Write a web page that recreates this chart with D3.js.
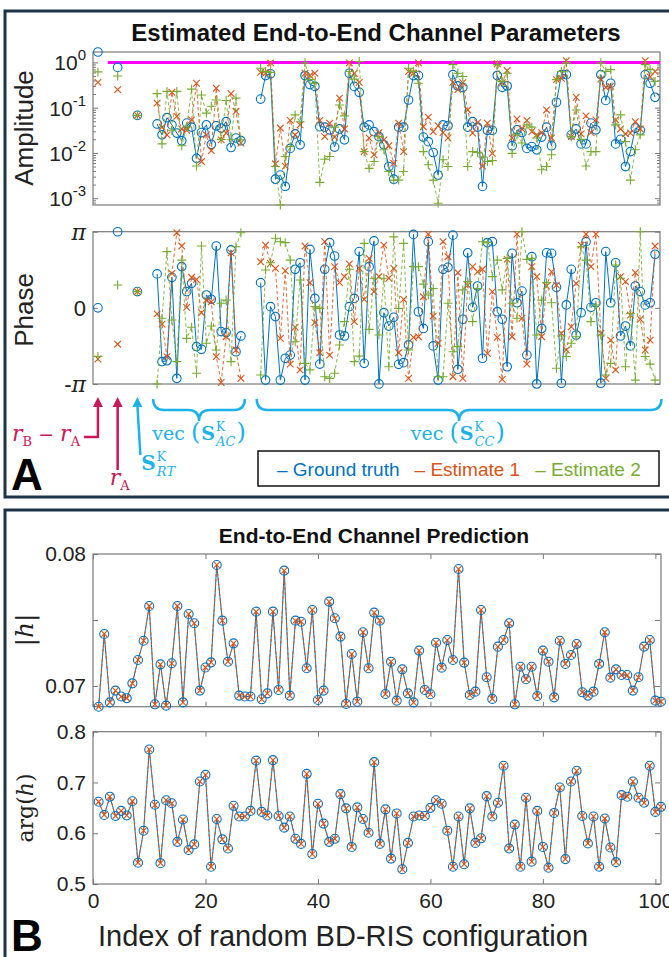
<!DOCTYPE html>
<html>
<head>
<meta charset="utf-8">
<script src="https://cdn.jsdelivr.net/npm/d3@7"></script>
<style>
  body { margin: 0; background: #fff; }
  svg { display: block; font-family: "Liberation Sans", Arial, sans-serif; }
</style>
</head>
<body>
<svg id="chart"></svg>
<script>
// ---------------- data ----------------
// top panel: parameter positions on the (hidden) index axis
const scalarPos = [1, 5, 9];          // rB - rA, rA, S_RT
const acStart = 13;                   // vec(S_AC), 18 entries
const ccStart = 34;                   // vec(S_CC), 81 entries

// amplitudes are stored as log10(|.|)
const scAmpGt = [0.23, -0.11, -1.17];
const scAmpE1 = [-0.44, -0.60, -1.17];
const scAmpE2 = [-0.21, -0.30, -1.17];
const scPhGt = [0.00, 3.14, 0.67];
const scPhE1 = [-2.11, -1.50, 0.67];
const scPhE2 = [-2.01, 0.94, 0.67];

const acAmpGt = [-1.36,-1.60,-1.22,-1.38,-1.56,-1.73,-1.34,-1.43,-2.12,-1.55,-1.38,-1.81,-1.40,-1.45,-1.31,-1.88,-1.67,-1.73];
const acAmpE1 = [-0.90,-1.43,-1.60,-0.66,-1.19,-1.47,-1.50,-1.27,-0.46,-2.19,-1.60,-1.95,-0.57,-1.71,-1.56,-0.69,-1.08,-1.78];
const acAmpE2 = [-0.69,-1.80,-0.64,-1.50,-0.64,-1.84,-1.42,-0.59,-2.29,-0.72,-1.12,-0.97,-0.83,-1.70,-0.84,-1.71,-0.79,-1.71];
const acPhGt = [1.40,-2.22,-2.18,1.26,-2.91,1.70,0.67,1.01,-1.60,-1.71,0.53,0.35,2.55,-0.98,-1.02,2.39,-1.81,-1.16];
const acPhE1 = [-0.25,-0.67,-2.01,1.42,3.10,2.55,0.02,1.26,1.17,-0.20,0.32,0.25,-2.01,-3.08,-1.19,2.27,-1.74,-2.91];
const acPhE2 = [-3.14,-0.43,2.32,-0.50,-2.22,1.97,-1.26,-0.80,-2.70,2.55,-1.46,-0.75,-1.74,0.19,0.32,-2.22,2.52,3.10];

const ccAmpGt = [-0.81,-0.29,-0.25,-2.58,-2.49,-2.74,-1.90,-1.58,-1.82,-0.29,
  -0.49,-0.53,-1.42,-1.43,-1.49,-1.87,-1.47,-1.71,-0.24,-0.53,
  -0.66,-1.43,-1.38,-1.53,-1.64,-1.82,-2.30,-2.58,-1.43,-1.43,
  -0.83,-0.29,-0.29,-1.65,-1.75,-1.99,-2.49,-1.38,-1.40,-0.27,
  -0.52,-0.55,-1.43,-1.31,-1.43,-2.74,-1.50,-1.50,-0.29,-0.55,
  -0.52,-1.84,-1.49,-1.55,-1.90,-1.86,-1.93,-1.65,-1.43,-1.84,
  -0.88,-0.27,-0.27,-1.60,-1.47,-1.80,-1.80,-1.34,-1.49,-0.27,
  -0.84,-0.46,-1.80,-1.70,-2.30,-1.97,-1.45,-1.50,-0.27,-0.46,-0.77];
const ccAmpE1 = [-0.22,-0.24,-0.01,-2.24,-1.45,-2.29,-1.28,-1.60,-1.38,-0.24,
  -0.29,-0.24,-1.28,-1.64,-1.34,-1.65,-0.79,-1.47,-0.01,-0.24,
  -0.44,-1.97,-1.67,-2.04,-1.55,-1.71,-1.84,-2.23,-1.34,-1.97,
  -0.20,-0.24,-0.01,-1.42,-1.21,-1.53,-1.40,-1.55,-1.67,-0.44,
  -0.60,-0.45,-1.05,-1.56,-1.33,-2.29,-1.34,-2.01,-0.03,-0.45,
  -0.18,-1.67,-1.25,-1.47,-1.28,-1.53,-1.60,-1.55,-1.05,-1.67,
  -0.38,-0.35,0.04,-1.64,-0.77,-1.58,-1.18,-1.55,-1.27,-0.37,
  -0.55,-0.53,-1.27,-1.47,-1.58,-1.56,-1.31,-1.47,0.04,-0.32,-0.20];
const ccAmpE2 = [-0.13,-0.20,-0.22,-2.30,-3.15,-2.08,-1.86,-1.16,-1.31,-0.01,
  -0.38,-0.46,-2.65,-2.14,-2.08,-1.43,-0.94,-1.18,-0.20,-0.37,
  0.02,-1.97,-2.34,-2.19,-1.64,-1.93,-2.41,-2.60,-2.60,-2.41,
  -0.13,-0.20,-0.46,-1.97,-2.26,-2.60,-3.11,-2.15,-2.30,-0.05,
  -0.24,-0.31,-2.30,-1.97,-1.99,-2.09,-2.19,-2.17,-0.05,-0.42,
  -0.24,-2.01,-1.60,-1.78,-1.38,-1.43,-1.67,-2.37,-2.30,-2.04,
  -0.38,-0.20,-0.01,-1.64,-1.05,-1.70,-2.29,-1.97,-1.97,-0.01,
  -0.20,-0.16,-1.38,-1.16,-1.75,-2.60,-1.93,-1.60,-0.05,-0.16,-0.42];

const ccPhGt = [1.04,-2.98,0.05,-0.36,-2.98,-2.08,-1.95,1.59,1.86,-2.98,
  2.41,0.39,-2.32,1.59,2.69,2.14,-1.12,-1.16,0.05,0.39,
  2.32,-2.29,1.70,2.76,-3.14,-0.20,-0.75,-0.39,-2.33,-2.26,
  -1.53,3.03,-0.16,-0.85,2.73,-1.57,-2.98,1.59,1.67,3.00,
  -2.54,-0.47,2.27,0.02,0.90,-2.08,2.69,2.73,-0.16,-0.47,
  -2.43,2.25,0.21,0.69,-1.95,2.11,-3.14,-0.85,2.27,2.25,
  0.85,-3.11,0.12,1.59,-1.12,-0.20,2.73,0.02,0.21,-3.11,
  2.32,0.21,1.86,-1.16,-0.75,-1.57,0.90,0.67,0.12,0.21,2.21];
const ccPhE1 = [1.90,2.59,1.83,1.63,-1.26,1.53,-2.32,-0.80,-2.56,2.55,
  1.04,-0.61,-1.85,2.73,-1.95,1.70,1.04,1.29,1.81,-0.57,
  1.63,0.35,2.04,0.67,1.29,2.59,1.22,1.63,-1.85,0.35,
  -2.91,-1.22,-1.19,0.46,3.04,-0.34,-1.46,2.73,2.11,-2.84,
  1.45,-2.91,0.94,1.70,1.49,1.59,-1.88,0.67,-1.22,-2.95,
  2.00,-1.19,3.04,-0.43,-2.32,1.70,1.29,-1.19,0.90,1.49,
  0.94,-1.05,-1.74,-0.78,1.01,2.59,3.04,1.70,3.04,-1.05,
  -2.91,-1.33,-2.56,1.29,1.08,-0.30,1.45,-0.47,-1.74,-1.33,2.55];
const ccPhE2 = [-2.77,1.56,1.86,2.87,2.73,2.69,1.97,-1.40,1.15,-2.29,
  -2.56,0.05,-0.02,-2.84,-2.91,-2.70,-1.53,-0.57,1.59,-2.22,
  -1.99,2.66,-0.89,1.22,-1.12,1.22,-2.43,2.93,-0.02,2.66,
  -1.74,1.70,1.70,0.98,0.53,0.80,-2.84,-2.84,0.19,-1.81,
  -1.60,0.74,1.08,-0.57,0.80,2.73,2.69,1.29,1.97,0.74,
  2.04,0.19,-0.43,3.14,2.00,2.04,-1.12,0.32,1.04,0.21,
  -2.49,-1.16,-2.01,-1.46,-1.19,2.52,1.97,-0.57,0.12,-1.12,
  -2.77,-2.29,1.77,1.22,-2.43,-0.23,-2.98,3.14,-2.01,-2.32,-2.98];

const unitAmp = 1;                 // magenta reference line at amplitude 1
const unitAmpFrom = 3;

// bottom panel: 101 random BD-RIS configurations (prediction coincides with truth)
const hAbs = [0.06843,0.07394,0.06876,0.06965,0.0692,0.06907,0.0702,0.07197,0.07343,0.07606,
  0.06861,0.07164,0.06851,0.07172,0.07606,0.06876,0.07545,0.07475,0.06965,0.0714,
  0.07179,0.07917,0.07495,0.07184,0.07323,0.06927,0.0692,0.0692,0.07563,0.06899,
  0.06944,0.07563,0.0697,0.07874,0.06927,0.07495,0.07487,0.07134,0.07576,0.06894,
  0.06965,0.07639,0.07513,0.07374,0.06864,0.07242,0.06881,0.07407,0.07134,0.07556,
  0.07495,0.06939,0.07184,0.06889,0.07126,0.06944,0.06876,0.07268,0.0697,0.06937,
  0.07328,0.07139,0.07348,0.07197,0.07886,0.07177,0.06932,0.06957,0.07576,0.07066,
  0.06902,0.07298,0.07348,0.07475,0.06861,0.07146,0.07051,0.07146,0.06924,0.07268,
  0.07184,0.06914,0.07343,0.07167,0.07235,0.07318,0.06952,0.06927,0.06957,0.07167,
  0.07407,0.07063,0.07126,0.07083,0.07083,0.06965,0.07066,0.07298,0.07348,0.06889,0.06881];
const hArg = [0.662,0.636,0.672,0.634,0.644,0.635,0.663,0.542,0.605,0.765,
  0.656,0.541,0.665,0.659,0.583,0.627,0.567,0.578,0.702,0.715,
  0.534,0.628,0.588,0.570,0.654,0.633,0.633,0.644,0.743,0.642,
  0.635,0.744,0.634,0.611,0.633,0.589,0.579,0.717,0.559,0.658,
  0.619,0.583,0.589,0.677,0.649,0.573,0.651,0.628,0.601,0.740,
  0.579,0.647,0.550,0.639,0.529,0.581,0.633,0.635,0.634,0.650,
  0.665,0.658,0.605,0.534,0.633,0.539,0.649,0.581,0.590,0.673,
  0.633,0.660,0.733,0.570,0.617,0.534,0.670,0.544,0.644,0.573,
  0.532,0.640,0.690,0.549,0.702,0.723,0.634,0.580,0.633,0.534,
  0.629,0.572,0.543,0.675,0.672,0.702,0.670,0.660,0.733,0.642,0.652];
const hAbsEst = hAbs;
const hArgEst = hArg;

const seriesNames = ["Ground truth", "Estimate 1", "Estimate 2"];
const absTicks = [0.07, 0.075, 0.08];
const argTicks = [0.5, 0.6, 0.7, 0.8];
const idxTicks = [0, 20, 40, 60, 80, 100];

// ---------------- styles ----------------
const colGt = "#0072BD", colE1 = "#D95319", colE2 = "#77AC30";
const cyan = "#1cb2e8", crimson = "#c8175a", frameCol = "#1c3547";
const axisCol = "#7a7a7a", textCol = "#222";
const serif = "'DejaVu Serif', 'Liberation Serif', serif";
const NB = "\u00A0";

const svg = d3.select("#chart").attr("width", 669).attr("height", 957);
svg.append("rect").attr("width", 669).attr("height", 957).attr("fill", "#fff");
const defs = svg.append("defs");

// ---------------- scales ----------------
const xTop = d3.scaleLinear().domain([0, 115]).range([93, 660]);
const yAmp = d3.scaleLog().domain([Math.pow(10, -3.15), Math.pow(10, 0.23)]).range([205, 52]);
const yPh = d3.scaleLinear().domain([-Math.PI, Math.PI]).range([384, 231.7]);
const xBot = d3.scaleLinear().domain([0, 101]).range([93, 661]);
const yAbs = d3.scaleLinear().domain([0.06843, 0.08]).range([706.7, 554]);
const yArg = d3.scaleLinear().domain([0.5, 0.8]).range([884, 731.7]);

function clipFor(id, x0, x1, y0, y1) {
  defs.append("clipPath").attr("id", id).append("rect")
    .attr("x", x0).attr("y", y0).attr("width", x1 - x0).attr("height", y1 - y0);
  return `url(#${id})`;
}

function markerPath(type, x, y, s) {
  if (type === "o") return `M${x + s},${y}A${s},${s} 0 1,0 ${x - s},${y}A${s},${s} 0 1,0 ${x + s},${y}`;
  if (type === "x") return `M${x - s},${y - s}L${x + s},${y + s}M${x - s},${y + s}L${x + s},${y - s}`;
  return `M${x - s},${y}L${x + s},${y}M${x},${y - s}L${x},${y + s}`;
}

function box(g, xs, ys) {
  const [x0, x1] = xs.range(), [y1, y0] = ys.range();
  g.append("rect").attr("x", x0).attr("y", y0).attr("width", x1 - x0).attr("height", y1 - y0)
    .attr("fill", "none").attr("stroke", axisCol).attr("stroke-width", 1.2);
}

function styleAxis(sel) {
  sel.select(".domain").remove();
  sel.selectAll(".tick line").attr("stroke", axisCol);
  sel.selectAll(".tick text").attr("fill", textCol).attr("font-size", 21)
    .attr("font-family", "'Liberation Sans', Arial, sans-serif");
}

// ---------------- panel A ----------------
svg.append("rect").attr("x", 5).attr("y", 11).attr("width", 680).attr("height", 486)
  .attr("fill", "none").attr("stroke", frameCol).attr("stroke-width", 3);
svg.append("text").attr("x", 376).attr("y", 41).attr("text-anchor", "middle")
  .attr("font-weight", "bold").attr("font-size", 24).attr("fill", "#111")
  .text("Estimated End-to-End Channel Parameters");

const pts = (start, arr) => arr.map((v, i) => ({ k: start + i, v }));
const scPts = arr => arr.map((v, i) => ({ k: scalarPos[i], v }));

const topSeries = [
  { color: colGt, marker: "o", size: 4.3, dash: null, op: 1,
    amp: [scAmpGt, acAmpGt, ccAmpGt], ph: [scPhGt, acPhGt, ccPhGt] },
  { color: colE1, marker: "x", size: 3.3, dash: "3.5,2.5", op: 0.85,
    amp: [scAmpE1, acAmpE1, ccAmpE1], ph: [scPhE1, acPhE1, ccPhE1] },
  { color: colE2, marker: "+", size: 4.5, dash: "3.5,2.5", op: 0.85,
    amp: [scAmpE2, acAmpE2, ccAmpE2], ph: [scPhE2, acPhE2, ccPhE2] }
];

function drawTop(g, yScale, key, conv, clip) {
  topSeries.forEach(s => {
    const [sc, ac, cc] = s[key];
    const line = d3.line().x(d => xTop(d.k)).y(d => yScale(conv(d.v)));
    [pts(acStart, ac), pts(ccStart, cc)].forEach(seg => {
      g.append("path").attr("d", line(seg)).attr("fill", "none")
        .attr("stroke", s.color).attr("stroke-width", 1).attr("stroke-opacity", s.op)
        .attr("stroke-dasharray", s.dash).attr("clip-path", clip);
    });
    const all = scPts(sc).concat(pts(acStart, ac), pts(ccStart, cc));
    g.append("g").selectAll("path").data(all).join("path")
      .attr("d", d => markerPath(s.marker, xTop(d.k), yScale(conv(d.v)), s.size))
      .attr("fill", "none").attr("stroke", s.color).attr("stroke-width", 1.1);
  });
}

// amplitude
const gAmp = svg.append("g");
box(gAmp, xTop, yAmp);
const majors = [1, 0.1, 0.01, 0.001];
const minors = [];
for (let e = -4; e <= 0; e++) for (let m = 2; m <= 9; m++) {
  const v = m * Math.pow(10, e);
  if (v > yAmp.domain()[0] && v < yAmp.domain()[1]) minors.push(v);
}
[[d3.axisLeft, 93], [d3.axisRight, 660]].forEach(([ax, x]) => {
  gAmp.append("g").attr("transform", `translate(${x},0)`)
    .call(ax(yAmp).tickValues(majors).tickSize(-5).tickFormat("")).call(styleAxis);
  gAmp.append("g").attr("transform", `translate(${x},0)`)
    .call(ax(yAmp).tickValues(minors).tickSize(-3).tickFormat("")).call(styleAxis);
});
majors.forEach(v => {
  const t = gAmp.append("text").attr("x", 86).attr("y", yAmp(v) + 8).attr("text-anchor", "end")
    .attr("font-size", 21).attr("fill", textCol);
  t.append("tspan").text("10");
  t.append("tspan").attr("dy", -10).attr("font-size", 15).text(Math.round(Math.log10(v)) === 0 ? "0" : "-" + Math.abs(Math.round(Math.log10(v))));
});
gAmp.append("text").attr("transform", "translate(33,128) rotate(-90)").attr("text-anchor", "middle")
  .attr("font-size", 26).attr("fill", textCol).text("Amplitude");
gAmp.append("line").attr("x1", xTop(unitAmpFrom)).attr("x2", xTop.range()[1])
  .attr("y1", yAmp(unitAmp)).attr("y2", yAmp(unitAmp)).attr("stroke", "#ff00ff").attr("stroke-width", 3);
drawTop(gAmp, yAmp, "amp", v => Math.pow(10, v), clipFor("clipAmp", 93, 660, 52, 205));

// phase
const gPh = svg.append("g");
box(gPh, xTop, yPh);
const phTicks = [-Math.PI, 0, Math.PI];
[[d3.axisLeft, 93], [d3.axisRight, 660]].forEach(([ax, x]) => {
  gPh.append("g").attr("transform", `translate(${x},0)`)
    .call(ax(yPh).tickValues(phTicks).tickSize(-5).tickFormat("")).call(styleAxis);
});
phTicks.forEach(v => {
  const t = gPh.append("text").attr("x", 86).attr("y", yPh(v) + 8).attr("text-anchor", "end")
    .attr("font-size", 22).attr("fill", textCol);
  if (v < 0) t.append("tspan").text("-");
  if (v === 0) t.append("tspan").text("0");
  else t.append("tspan").attr("font-family", serif).attr("font-style", "italic").text("π");
});
gPh.append("text").attr("transform", "translate(33,310) rotate(-90)").attr("text-anchor", "middle")
  .attr("font-size", 26).attr("fill", textCol).text("Phase");
drawTop(gPh, yPh, "ph", v => v, clipFor("clipPh", 93, 660, 231, 385));

// annotations: arrows
function arrowUp(g, xb, yb, xt, yt, col) {
  g.append("path").attr("d", `M${xb},${yb}L${xt},${yt + 8}`).attr("stroke", col).attr("stroke-width", 2.5).attr("fill", "none");
  g.append("path").attr("d", `M${xt},${yt}L${xt - 5},${yt + 10}L${xt + 5},${yt + 10}Z`).attr("fill", col);
}
const gAnn = svg.append("g");
const xa = xTop(scalarPos[0]), xb = xTop(scalarPos[1]), xc = xTop(scalarPos[2]);
gAnn.append("path").attr("d", `M84,437L${xa},437`).attr("stroke", crimson).attr("stroke-width", 2.5);
arrowUp(gAnn, xa, 438, xa, 397, crimson);
arrowUp(gAnn, xb, 470, xb, 397, crimson);
arrowUp(gAnn, xc + 3, 455, xc, 397, cyan);

// math labels built from measured pieces
function mathText(g, x, y, pieces, col, anchor) {
  const grp = g.append("g").attr("fill", col).attr("font-family", serif);
  let cx = 0;
  pieces.forEach(p => {
    if (p.stack) {
      const a = grp.append("text").attr("x", cx + 1).attr("y", -9).attr("font-size", 12).text(p.sup);
      const b = grp.append("text").attr("x", cx + 1).attr("y", 6).attr("font-size", 13)
        .attr("font-style", "italic").text(p.sub);
      cx += Math.max(a.node().getComputedTextLength(), b.node().getComputedTextLength()) + 2;
    } else {
      const t = grp.append("text").attr("x", cx).attr("y", p.dy || 0).attr("font-size", p.size || 20)
        .attr("font-style", p.it ? "italic" : null).attr("font-weight", p.bold ? "bold" : null).text(p.t);
      cx += t.node().getComputedTextLength() + (p.gap || 0);
    }
  });
  const off = anchor === "middle" ? -cx / 2 : 0;
  grp.attr("transform", `translate(${x + off},${y})`);
}
mathText(gAnn, 12, 441, [{ t: "r", it: true, size: 22 }, { t: "B", size: 13, dy: 5 }, { t: NB + "−" + NB, size: 19 },
  { t: "r", it: true, size: 22 }, { t: "A", size: 13, dy: 5 }], crimson);
mathText(gAnn, xb - 8, 485, [{ t: "r", it: true, size: 22 }, { t: "A", size: 13, dy: 5 }], crimson);
mathText(gAnn, xc + 4, 470, [{ t: "S", bold: true, size: 20 }, { stack: true, sup: "K", sub: "RT" }], cyan);

// braces under the matrix groups
function brace(g, x0, x1, y, h, col) {
  const xm = (x0 + x1) / 2, r = h / 2;
  g.append("path").attr("d",
    `M${x0},${y}Q${x0},${y + r} ${x0 + r},${y + r}L${xm - r},${y + r}Q${xm},${y + r} ${xm},${y + h}` +
    `Q${xm},${y + r} ${xm + r},${y + r}L${x1 - r},${y + r}Q${x1},${y + r} ${x1},${y}`)
    .attr("fill", "none").attr("stroke", col).attr("stroke-width", 2.5);
}
const acEnd = acStart + acAmpGt.length - 1, ccEnd = ccStart + ccAmpGt.length - 1;
brace(gAnn, xTop(acStart - 0.8), xTop(acEnd + 0.8), 399, 22, cyan);
brace(gAnn, xTop(ccStart - 0.8), xTop(ccEnd + 1.3), 399, 22, cyan);
const vecPieces = sub => [{ t: "vec" + NB, size: 19 }, { t: "(", size: 24, gap: 1 }, { t: "S", bold: true, size: 19 },
  { stack: true, sup: "K", sub }, { t: ")", size: 24 }];
mathText(gAnn, (xTop(acStart) + xTop(acEnd)) / 2, 440, vecPieces("AC"), cyan, "middle");
mathText(gAnn, (xTop(ccStart) + xTop(ccEnd)) / 2, 440, vecPieces("CC"), cyan, "middle");

// legend
svg.append("rect").attr("x", 258).attr("y", 451).attr("width", 401).attr("height", 35)
  .attr("fill", "#fff").attr("stroke", "#111").attr("stroke-width", 1.5);
let lx = 277;
seriesNames.forEach((n, i) => {
  const t = svg.append("text").attr("x", lx).attr("y", 476).attr("font-size", 19)
    .attr("fill", [colGt, colE1, colE2][i]).text("–" + NB + n);
  lx += t.node().getComputedTextLength() + 15;
});
svg.append("text").attr("x", 11).attr("y", 490).attr("font-size", 44).attr("font-weight", "bold").text("A");

// ---------------- panel B ----------------
svg.append("rect").attr("x", 5).attr("y", 510).attr("width", 680).attr("height", 470)
  .attr("fill", "none").attr("stroke", frameCol).attr("stroke-width", 3);
svg.append("text").attr("x", 374).attr("y", 543).attr("text-anchor", "middle")
  .attr("font-weight", "bold").attr("font-size", 21).attr("fill", "#111")
  .text("End-to-End Channel Prediction");

function drawBottom(yScale, truth, est, ticks, fmt, showX) {
  const g = svg.append("g");
  box(g, xBot, yScale);
  const [y1, y0] = yScale.range();
  [[d3.axisLeft, 93], [d3.axisRight, 660]].forEach(([ax, x], j) => {
    g.append("g").attr("transform", `translate(${x},0)`)
      .call(ax(yScale).tickValues(ticks).tickSize(-5).tickPadding(7).tickFormat(j === 0 ? fmt : "")).call(styleAxis);
  });
  g.append("g").attr("transform", `translate(0,${y1})`)
    .call(d3.axisBottom(xBot).tickValues(idxTicks).tickSize(-5).tickPadding(9).tickFormat(showX ? d3.format("d") : "")).call(styleAxis);
  g.append("g").attr("transform", `translate(0,${y0})`)
    .call(d3.axisTop(xBot).tickValues(idxTicks).tickSize(-5).tickFormat("")).call(styleAxis);
  const tp = pts(1, truth), ep = pts(1, est);
  const line = d3.line().x(d => xBot(d.k)).y(d => yScale(d.v));
  g.append("path").attr("d", line(tp)).attr("fill", "none").attr("stroke", colGt).attr("stroke-width", 1);
  g.append("path").attr("d", line(ep)).attr("fill", "none").attr("stroke", colE1).attr("stroke-width", 1)
    .attr("stroke-dasharray", "3,2");
  g.append("g").selectAll("path").data(tp).join("path")
    .attr("d", d => markerPath("o", xBot(d.k), yScale(d.v), 4.5)).attr("fill", "none").attr("stroke", colGt).attr("stroke-width", 1.1);
  g.append("g").selectAll("path").data(ep).join("path")
    .attr("d", d => markerPath("x", xBot(d.k), yScale(d.v), 3)).attr("fill", "none").attr("stroke", colE1).attr("stroke-width", 1.1);
  return g;
}
const gAbs = drawBottom(yAbs, hAbs, hAbsEst, absTicks, d => d === 0.075 ? "" : d3.format(".2f")(d), false);
const gArg = drawBottom(yArg, hArg, hArgEst, argTicks, d3.format(".1f"), true);

const yl1 = gAbs.append("text").attr("transform", "translate(33,630) rotate(-90)").attr("text-anchor", "middle")
  .attr("font-size", 25).attr("fill", textCol).attr("font-family", serif);
yl1.append("tspan").text("|");
yl1.append("tspan").attr("font-style", "italic").text("h");
yl1.append("tspan").text("|");
const yl2 = gArg.append("text").attr("transform", "translate(33,808) rotate(-90)").attr("text-anchor", "middle")
  .attr("font-size", 22).attr("fill", textCol).attr("font-family", serif);
yl2.append("tspan").text("arg(");
yl2.append("tspan").attr("font-style", "italic").text("h");
yl2.append("tspan").text(")");

svg.append("text").attr("x", 343).attr("y", 946).attr("text-anchor", "middle")
  .attr("font-size", 29).attr("fill", textCol).text("Index of random BD-RIS configuration");
svg.append("text").attr("x", 11).attr("y", 951).attr("font-size", 44).attr("font-weight", "bold").text("B");
</script>
</body>
</html>
